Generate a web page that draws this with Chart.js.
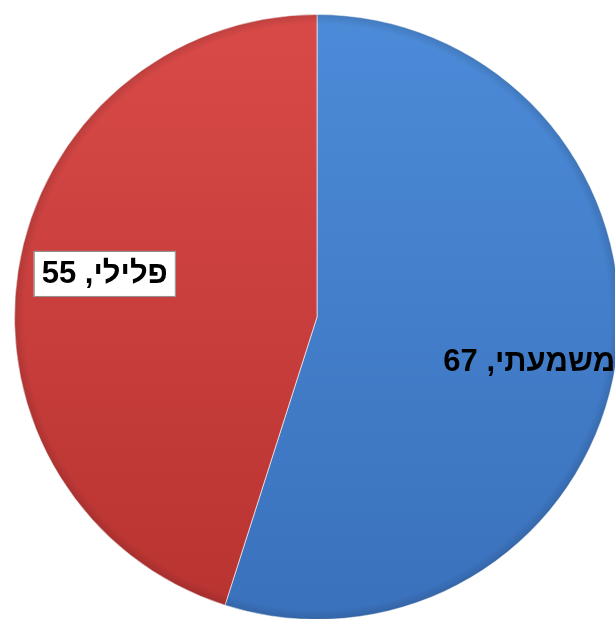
<!DOCTYPE html>
<html lang="he">
<head>
<meta charset="utf-8">
<title>פילוח תיקים</title>
<script src="https://cdn.jsdelivr.net/npm/chart.js@4/dist/chart.umd.min.js"></script>
<style>
  html, body { margin: 0; padding: 0; background: #ffffff; overflow: hidden; }
  #wrap { position: absolute; left: 0; top: 0; width: 634px; height: 634px; }
</style>
</head>
<body>
<div id="wrap"><canvas id="pie"></canvas></div>
<script>
// Case types and counts
const labels = ['משמעתי', 'פלילי'];
const counts = [67, 55];
const topColors = ['#4c8bd8', '#d84a48'];
const bottomColors = ['#3a71bc', '#b83331'];
const boxed = [false, true];

function sliceFill(ctx, i) {
    const area = ctx.chart.chartArea;
    if (!area) return topColors[i];
    const g = ctx.chart.ctx.createLinearGradient(0, area.top, 0, area.bottom);
    g.addColorStop(0, topColors[i]);
    g.addColorStop(1, bottomColors[i]);
    return g;
}

// Slight darkening toward the rim, for the bevelled look
const rimShade = {
    id: 'rimShade',
    afterDatasetsDraw(chart) {
        const arc = chart.getDatasetMeta(0).data[0];
        if (!arc) return;
        const c = chart.ctx;
        const r = arc.outerRadius;
        const g = c.createRadialGradient(arc.x, arc.y, r - 10, arc.x, arc.y, r);
        g.addColorStop(0, 'rgba(0,0,0,0)');
        g.addColorStop(1, 'rgba(0,0,0,0.12)');
        c.save();
        c.beginPath();
        c.arc(arc.x, arc.y, r, 0, Math.PI * 2);
        c.fillStyle = g;
        c.fill();
        c.restore();
    }
};

// Draws "name, value" labels inside each slice
const sliceLabels = {
    id: 'sliceLabels',
    afterDatasetsDraw(chart) {
        const c = chart.ctx;
        const meta = chart.getDatasetMeta(0);
        const nudgeY = [11, -10];
        c.save();
        c.font = 'bold 31px "Liberation Sans", Arial, sans-serif';
        c.textAlign = 'center';
        c.textBaseline = 'middle';
        meta.data.forEach((arc, i) => {
            const mid = (arc.startAngle + arc.endAngle) / 2;
            const r = arc.outerRadius * 0.71;
            const x = arc.x + Math.cos(mid) * r;
            const y = arc.y + Math.sin(mid) * r + nudgeY[i];
            const txt = labels[i] + ', ' + counts[i];
            if (boxed[i]) {
                const w = c.measureText(txt).width + 16;
                const h = 46;
                c.fillStyle = '#ffffff';
                c.fillRect(x - w / 2, y - h / 2, w, h);
                c.strokeStyle = '#8c8c8c';
                c.lineWidth = 1;
                c.strokeRect(x - w / 2 + 0.5, y - h / 2 + 0.5, w - 1, h - 1);
            }
            c.fillStyle = '#000000';
            c.fillText(txt, x, y + 1);
        });
        c.restore();
    }
};

new Chart(document.getElementById('pie'), {
    type: 'pie',
    data: {
        labels,
        datasets: [{
            data: counts,
            backgroundColor: ctx => sliceFill(ctx, ctx.dataIndex),
            borderColor: 'rgba(255,255,255,0.6)',
            borderWidth: 1,
        }],
    },
    options: {
        responsive: true,
        maintainAspectRatio: false,
        animation: false,
        layout: { padding: 14 },
        plugins: {
            legend: { display: false },
            tooltip: { enabled: false },
        },
    },
    plugins: [rimShade, sliceLabels],
});
</script>
</body>
</html>
